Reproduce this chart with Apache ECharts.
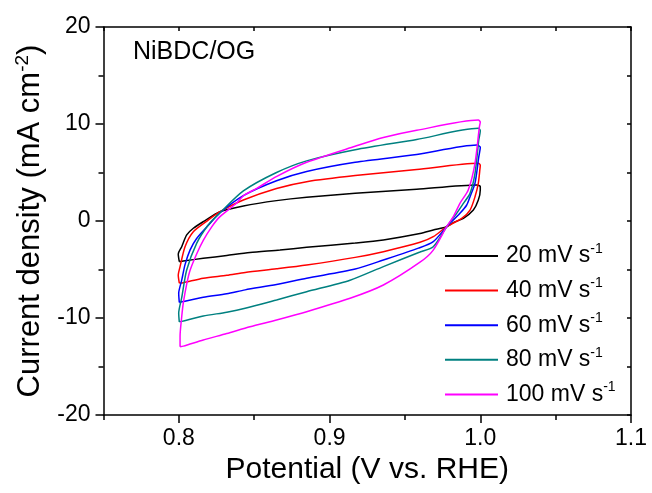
<!DOCTYPE html>
<html><head><meta charset="utf-8">
<script src="https://cdn.jsdelivr.net/npm/echarts@6/dist/echarts.min.js"></script>
<style>html,body{margin:0;padding:0;background:#fff}#c{width:652px;height:493px}</style>
</head><body><div id="c"></div>
<script>
const speeds = ['20', '40', '60', '80', '100'];
const colors = ['#000000', '#ff0000', '#0000ff', '#008080', '#ff00ff'];

const cv20 = [[0.8003,-4.20],[0.7996,-3.40],[0.8019,-2.65],[0.8052,-1.44],[0.8096,-0.75],[0.8162,-0.07],[0.8273,0.96],[0.8428,1.55],[0.8648,2.10],[0.8848,2.45],[0.9170,2.85],[0.9578,3.27],[0.9977,3.71],[1.0000,3.55],[1.0000,3.20],[0.9987,2.16],[0.9954,1.13],[0.9888,0.28],[0.9821,-0.17],[0.9777,-0.59],[0.9688,-0.93],[0.9600,-1.30],[0.9357,-1.96],[0.9170,-2.27],[0.8848,-2.71],[0.8671,-2.99],[0.8472,-3.25],[0.8318,-3.55],[0.8162,-3.85],[0.8030,-4.12],[0.8003,-4.20]];
const cv40 = [[0.8003,-6.40],[0.7996,-5.60],[0.8008,-4.70],[0.8041,-2.65],[0.8096,-1.10],[0.8195,0.10],[0.8273,0.96],[0.8428,2.16],[0.8648,3.35],[0.8848,4.05],[0.9170,4.68],[0.9578,5.30],[0.9987,5.95],[1.0000,5.75],[0.9998,5.40],[0.9987,3.90],[0.9965,2.50],[0.9932,1.13],[0.9877,0.28],[0.9777,-0.59],[0.9688,-1.62],[0.9600,-2.20],[0.9357,-3.16],[0.9170,-3.75],[0.8848,-4.54],[0.8648,-4.93],[0.8440,-5.30],[0.8318,-5.60],[0.8162,-5.90],[0.8030,-6.36],[0.8003,-6.40]];
const cv60 = [[0.8003,-8.40],[0.7999,-7.45],[0.8019,-6.10],[0.8041,-4.50],[0.8074,-3.00],[0.8118,-1.80],[0.8195,-0.45],[0.8273,0.85],[0.8428,2.62],[0.8648,4.15],[0.8848,5.10],[0.9170,6.05],[0.9578,6.85],[0.9977,7.84],[1.0000,7.60],[0.9990,6.60],[0.9965,3.90],[0.9932,2.50],[0.9910,1.65],[0.9865,0.79],[0.9777,-0.59],[0.9688,-2.13],[0.9590,-2.80],[0.9357,-4.02],[0.9170,-4.95],[0.8848,-5.90],[0.8648,-6.55],[0.8440,-7.10],[0.8318,-7.50],[0.8162,-7.87],[0.8030,-8.30],[0.8003,-8.40]];
const cv80 = [[0.8003,-10.40],[0.7999,-9.50],[0.8019,-7.90],[0.8052,-5.05],[0.8118,-2.30],[0.8195,-0.41],[0.8273,0.85],[0.8428,3.10],[0.8648,5.00],[0.8848,6.20],[0.9170,7.35],[0.9578,8.40],[0.9987,9.55],[1.0000,9.30],[0.9990,8.35],[0.9965,4.90],[0.9932,2.85],[0.9888,1.82],[0.9843,0.79],[0.9777,-0.59],[0.9688,-2.65],[0.9600,-3.20],[0.9357,-4.70],[0.9136,-6.10],[0.8848,-7.29],[0.8648,-8.14],[0.8440,-9.00],[0.8318,-9.40],[0.8162,-9.80],[0.8030,-10.30],[0.8003,-10.40]];
const cv100 = [[0.8008,-12.96],[0.8008,-11.90],[0.8019,-9.87],[0.8030,-8.40],[0.8052,-6.50],[0.8074,-5.10],[0.8118,-3.40],[0.8162,-2.00],[0.8218,-0.60],[0.8273,0.45],[0.8384,1.85],[0.8428,2.60],[0.8517,3.37],[0.8650,4.60],[0.8848,6.05],[0.9170,7.70],[0.9357,8.60],[0.9578,9.35],[0.9987,10.40],[1.0000,10.20],[0.9994,9.70],[0.9965,5.95],[0.9920,3.20],[0.9865,1.82],[0.9821,0.44],[0.9777,-0.59],[0.9688,-3.00],[0.9600,-4.25],[0.9357,-6.60],[0.9136,-7.97],[0.8848,-9.35],[0.8648,-10.20],[0.8472,-10.90],[0.8318,-11.60],[0.8162,-12.27],[0.8030,-12.90],[0.8008,-12.96]];
const curves = [cv20, cv40, cv60, cv80, cv100];

const xMajorTicks = [0.8, 0.9, 1.0, 1.1];
const xMinorTicks = [0.75, 0.85, 0.95, 1.05];
const xAllTicks = [0.75, 0.8, 0.85, 0.9, 0.95, 1.0, 1.05, 1.1];
const yMajorTicks = [-20, -10, 0, 10, 20];
const yMinorTicks = [-15, -5, 5, 15];
const yAllTicks = [-20, -15, -10, -5, 0, 5, 10, 15, 20];

const FONT = 'Liberation Sans, Arial, sans-serif';
const axisLineStyle = { color: '#000', width: 1.5 };

const chart = echarts.init(document.getElementById('c'), null, { renderer: 'canvas' });
const option = {
  animation: false,
  backgroundColor: '#fff',
  grid: { left: 103.5, right: 21, top: 27, bottom: 78 },
  xAxis: [
    { type: 'value', position: 'bottom', min: 0.75, max: 1.1,
      axisLine: { show: true, onZero: false, lineStyle: axisLineStyle },
      axisTick: { show: true, customValues: xMajorTicks, length: 8, lineStyle: axisLineStyle },
      axisLabel: { customValues: xMajorTicks, formatter: v => v.toFixed(1), fontSize: 23, color: '#000', fontFamily: FONT, margin: 12 },
      splitLine: { show: false },
      name: 'Potential (V vs. RHE)', nameLocation: 'middle', nameGap: 37,
      nameTextStyle: { fontSize: 30, color: '#000', fontFamily: FONT } },
    { type: 'value', position: 'bottom', min: 0.75, max: 1.1,
      axisLine: { show: false, onZero: false },
      axisTick: { show: true, customValues: xMinorTicks, length: 5, lineStyle: axisLineStyle },
      axisLabel: { show: false }, splitLine: { show: false } },
    { type: 'value', position: 'top', min: 0.75, max: 1.1,
      axisLine: { show: true, onZero: false, lineStyle: axisLineStyle },
      axisTick: { show: true, inside: true, customValues: xAllTicks, length: 4, lineStyle: axisLineStyle },
      axisLabel: { show: false }, splitLine: { show: false } }
  ],
  yAxis: [
    { type: 'value', position: 'left', min: -20, max: 20,
      axisLine: { show: true, onZero: false, lineStyle: axisLineStyle },
      axisTick: { show: true, customValues: yMajorTicks, length: 8, lineStyle: axisLineStyle },
      axisLabel: { customValues: yMajorTicks, fontSize: 23, color: '#000', fontFamily: FONT, margin: 13 },
      splitLine: { show: false },
      name: '{n|Current density (mA cm}{s|-2}{n|)}', nameLocation: 'middle', nameGap: 38, nameRotate: 90,
      nameTextStyle: { fontSize: 31, color: '#000', fontFamily: FONT,
        rich: { n: { fontSize: 31, fontFamily: FONT, color: '#000', lineHeight: 35 },
                s: { fontSize: 19, fontFamily: FONT, color: '#000', verticalAlign: 'top', lineHeight: 21 } } } },
    { type: 'value', position: 'left', min: -20, max: 20,
      axisLine: { show: false, onZero: false },
      axisTick: { show: true, customValues: yMinorTicks, length: 5, lineStyle: axisLineStyle },
      axisLabel: { show: false }, splitLine: { show: false } },
    { type: 'value', position: 'right', min: -20, max: 20,
      axisLine: { show: true, onZero: false, lineStyle: axisLineStyle },
      axisTick: { show: true, inside: true, customValues: yAllTicks, length: 4, lineStyle: axisLineStyle },
      axisLabel: { show: false }, splitLine: { show: false } }
  ],
  legend: {
    orient: 'vertical', left: 445, top: 242, itemWidth: 53, itemHeight: 2, itemGap: 6.6,
    icon: 'rect', padding: 0,
    data: speeds.map(s => s + ' mV s-1'),
    formatter: name => '{n|' + name.replace(' mV s-1', '') + ' mV s}{s|-1}',
    textStyle: { color: '#000', fontFamily: FONT, fontSize: 23, lineHeight: 28, padding: [0, 0, 0, 3],
      rich: { n: { fontSize: 23, fontFamily: FONT, color: '#000', lineHeight: 28 },
              s: { fontSize: 14, fontFamily: FONT, color: '#000', verticalAlign: 'top', lineHeight: 16 } } }
  },
  graphic: [
    { type: 'text', left: 133, top: 40, style: { text: 'NiBDC/OG', fontSize: 25, fontFamily: FONT, fill: '#000' } }
  ],
  series: curves.map((d, i) => ({
    name: speeds[i] + ' mV s-1', type: 'line', xAxisIndex: 0, yAxisIndex: 0,
    data: d, showSymbol: false, symbol: 'none', smooth: 0.25,
    lineStyle: { color: colors[i], width: 1.5 }, itemStyle: { color: colors[i] }
  }))
};
chart.setOption(option);
</script>
</body></html>
